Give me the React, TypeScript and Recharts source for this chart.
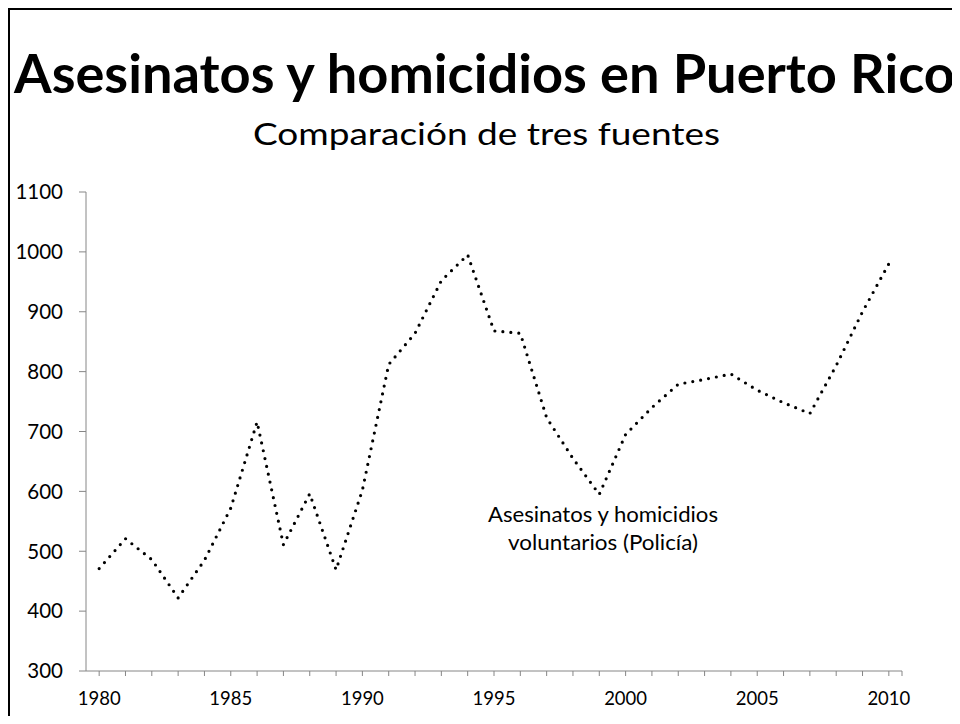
import { LineChart, Line, XAxis, YAxis } from 'recharts'

// Asesinatos y homicidios voluntarios reportados por la Policía
const years = [
  1980, 1981, 1982, 1983, 1984, 1985, 1986, 1987, 1988, 1989,
  1990, 1991, 1992, 1993, 1994, 1995, 1996, 1997, 1998, 1999,
  2000, 2001, 2002, 2003, 2004, 2005, 2006, 2007, 2008, 2009, 2010,
]
const policia = [
  471, 521, 486, 422, 485, 572, 716, 511, 596, 469,
  602, 812, 864, 952, 995, 868, 864, 723, 655, 595,
  695, 740, 779, 787, 796, 769, 748, 730, 810, 900, 980,
]
const yTicks = [300, 400, 500, 600, 700, 800, 900, 1000, 1100]
const xTicks = [...years, 2010.5]

const FONT = 'Lato, "Open Sans", sans-serif'
const AXIS = '#868686'

const data = years.map((year, i) => ({ year, policia: policia[i] }))

export default function App() {
  return (
    <div style={{ position: 'relative', width: 960, height: 724, margin: -8, overflow: 'hidden', background: '#fff' }}>
      {/* chart area frame */}
      <div
        style={{
          position: 'absolute', left: 7, top: 7, right: 0, bottom: 0,
          borderTop: '3px solid #000', borderLeft: '3px solid #000',
        }}
      />
      <LineChart
        width={960}
        height={724}
        data={data}
        margin={{ top: 192, right: 58, bottom: 23, left: 8 }}
        style={{ position: 'absolute', left: 0, top: 0 }}
      >
        <XAxis
          dataKey="year"
          type="number"
          domain={[1979.5, 2010.5]}
          ticks={xTicks}
          interval={0}
          height={30}
          tickSize={5}
          tickMargin={16}
          tickFormatter={(v: number) => (v % 5 === 0 ? String(v) : '')}
          stroke={AXIS}
          tick={{ fill: '#000', fontSize: 18.5, fontFamily: FONT }}
        />
        <YAxis
          type="number"
          domain={[300, 1100]}
          ticks={yTicks}
          interval={0}
          width={78}
          tickSize={7}
          tickMargin={16}
          stroke={AXIS}
          tick={{ fill: '#000', fontSize: 20.5, fontFamily: FONT }}
        />
        <Line
          type="linear"
          dataKey="policia"
          stroke="#000"
          strokeWidth={3.2}
          strokeDasharray="0 8"
          strokeLinecap="round"
          dot={false}
          activeDot={false}
          isAnimationActive={false}
        />
      </LineChart>
      <svg
        width={960}
        height={724}
        style={{ position: 'absolute', left: 0, top: 0, pointerEvents: 'none' }}
        fontFamily={FONT}
      >
        <text
          x={484.5} y={93} textAnchor="middle" fontSize={53} fontWeight="bold" fill="#000"
          textLength={941} lengthAdjust="spacingAndGlyphs"
        >
          Asesinatos y homicidios en Puerto Rico
        </text>
        <text
          x={486.5} y={145} textAnchor="middle" fontSize={31} fill="#000"
          textLength={467} lengthAdjust="spacingAndGlyphs"
        >
          Comparación de tres fuentes
        </text>
        <text
          x={603} y={522} textAnchor="middle" fontSize={21} fill="#000"
          textLength={230} lengthAdjust="spacingAndGlyphs"
        >
          Asesinatos y homicidios
        </text>
        <text
          x={603} y={550} textAnchor="middle" fontSize={21} fill="#000"
          textLength={190} lengthAdjust="spacingAndGlyphs"
        >
          voluntarios (Policía)
        </text>
      </svg>
    </div>
  )
}
